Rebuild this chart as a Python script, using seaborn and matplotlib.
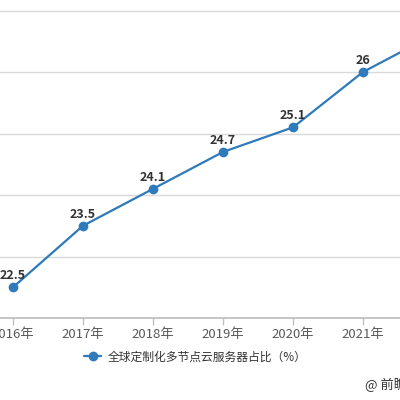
import matplotlib
matplotlib.use("Agg")
import matplotlib.pyplot as plt
import seaborn as sns
import pandas as pd

years = ["2016年", "2017年", "2018年", "2019年", "2020年", "2021年", "2022年"]
values = [22.5, 23.5, 24.1, 24.7, 25.1, 26.0, 26.6]
labels = ["22.5", "23.5", "24.1", "24.7", "25.1", "26", "26.6"]
series_name = "全球定制化多节点云服务器占比（%）"
source = "@ 前瞻产业研究院"

sns.set_theme(style="white")
plt.rcParams['font.family'] = ['Noto Sans CJK SC', 'DejaVu Sans']

df = pd.DataFrame({"year": years, "value": values, "series": series_name})

fig = plt.figure(figsize=(4, 4), dpi=100)
ax = fig.add_axes([-22 / 400, 82 / 400, 490 / 400, 369 / 400])

color = "#2e7aba"
sns.lineplot(data=df, x="year", y="value", hue="series", palette=[color],
             marker="o", markersize=7, markeredgewidth=0, linewidth=1.6,
             sort=False, ax=ax)

ax.set_xlim(-0.5, len(years) - 0.5)
ax.set_ylim(22, 28)
ax.set_yticks([22, 23, 24, 25, 26, 27, 28])
ax.yaxis.grid(True, color="#d9d9d9", linewidth=1)
ax.set_axisbelow(True)
for s in ["top", "right", "left"]:
    ax.spines[s].set_visible(False)
ax.spines["bottom"].set_color("#bfbfbf")
ax.set_xlabel("")
ax.set_ylabel("")
ax.tick_params(axis="x", colors="#bfbfbf", length=5, width=1, bottom=True,
               labelcolor="#595959", labelsize=9.5, pad=2)
ax.tick_params(axis="y", left=False, labelleft=False)

for i, (v, t) in enumerate(zip(values, labels)):
    ax.annotate(t, (i, v), xytext=(0, 3.5), textcoords="offset points",
                ha="center", va="bottom", fontsize=9, fontweight="bold",
                color="#333333")

leg = ax.legend(loc="center", bbox_to_anchor=(0.5, 0.5), frameon=False,
                fontsize=8.5, handlelength=1.5, handletextpad=0.5)
leg.remove()
fig.legend(handles=leg.legend_handles, labels=[series_name], loc="center",
           bbox_to_anchor=(195 / 400, 1 - 357 / 400), frameon=False,
           fontsize=8.5, handlelength=1.5, handletextpad=0.5,
           labelcolor="#333333")

fig.text(365 / 400, 1 - 385 / 400, source, fontsize=9.5, color="#333333",
         ha="left", va="center")

fig.savefig("out.png", dpi=100)
